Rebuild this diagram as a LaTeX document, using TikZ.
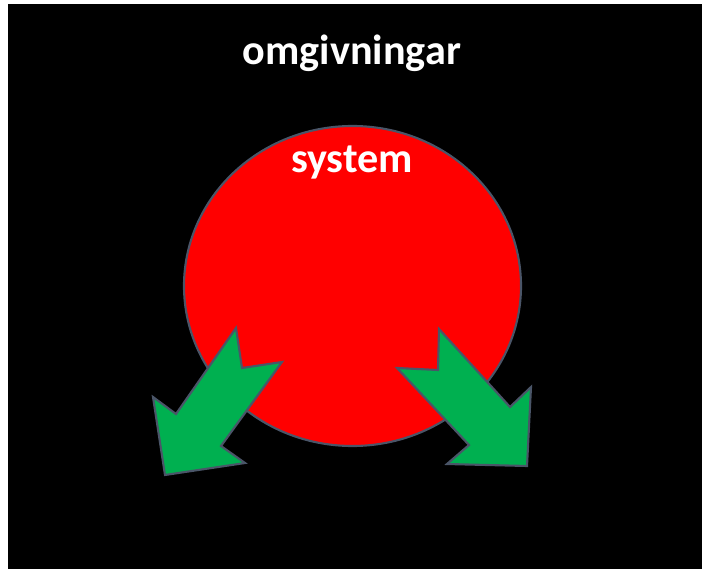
\documentclass[tikz,border=0pt]{standalone}
\usepackage{fontspec}
\setmainfont{Carlito}
\usepackage{tikz}
\usepackage{xcolor}
\definecolor{sysred}{HTML}{FF0000}
\definecolor{flowgreen}{HTML}{00B050}
\definecolor{edgegray}{HTML}{4A5568}
\tikzset{
  label/.style={text=white, font=\fontsize{30}{36}\selectfont\bfseries},
  flow/.style={fill=flowgreen, draw=edgegray, line width=1.5pt, line join=miter}
}

\begin{document}
\begin{tikzpicture}[x=0.025cm, y=-0.025cm]
  \useasboundingbox (0,0) rectangle (702,569);
  % bakgrund
  \fill[black] (8,4) rectangle (702,569);
  % systemet
  \draw[fill=sysred, draw=edgegray, line width=1.5pt] (352.5,286) ellipse (168.5 and 160);
  \node[label] (omg) at (352,53) {omgivningar};
  \node[label] (sys) at (352,163) {system};
  % utflöden
  \draw[flow] (165,475) -- (245,463) -- (221,446) -- (282,362) -- (242,368)
    -- (236,328) -- (176,414) -- (153,397) -- cycle;
  \draw[flow] (527,466) -- (531,387) -- (510,407) -- (439,329) -- (438,370)
    -- (397,368) -- (469,445) -- (447,464) -- cycle;
\end{tikzpicture}
\end{document}
